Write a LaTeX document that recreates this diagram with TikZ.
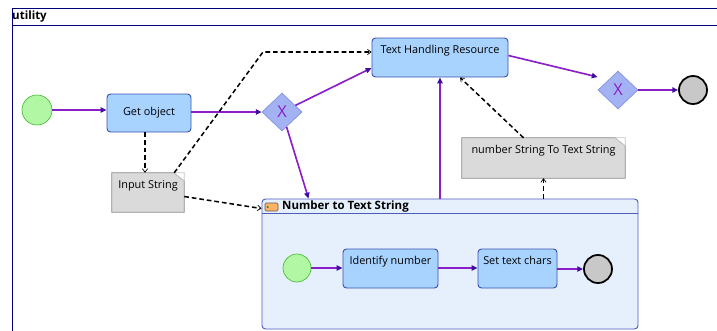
\documentclass[tikz,border=0pt]{standalone}
\usepackage{fontspec}
\setmainfont{Open Sans}
\usetikzlibrary{shapes.geometric, arrows.meta, positioning, calc}

\newcommand{\pxu}{0.03cm}
\definecolor{taskfill}{HTML}{A8D3FF}
\definecolor{taskline}{HTML}{3A4FB0}
\definecolor{startfill}{HTML}{B2F7A4}
\definecolor{startline}{HTML}{4CBF3A}
\definecolor{endfill}{HTML}{C8C8C8}
\definecolor{gwfill}{HTML}{A3B2F2}
\definecolor{gwline}{HTML}{8393E2}
\definecolor{flowline}{HTML}{8A1FC9}
\definecolor{flowhead}{HTML}{3E0FA0}
\definecolor{notefill}{HTML}{DADADA}
\definecolor{noteline}{HTML}{8A8A8A}
\definecolor{subfill}{HTML}{E6F0FD}
\definecolor{subline}{HTML}{4E5CC0}
\definecolor{frameline}{HTML}{00007F}

\tikzset{
  task/.style={draw=taskline, fill=taskfill, rounded corners=3pt, line width=0.8pt,
    align=center, inner sep=0pt, font=\fontsize{9.3}{11}\selectfont},
  gateway/.style={diamond, draw=gwline, fill=gwfill, inner sep=0pt, line width=0.6pt,
    minimum width=40*\pxu, minimum height=38*\pxu, text=flowline,
    font=\fontsize{14}{14}\selectfont},
  startev/.style={circle, draw=startline, fill=startfill, line width=0.6pt, inner sep=0pt},
  endev/.style={circle, draw=black, fill=endfill, line width=1.5pt, inner sep=0pt},
  note/.style={inner sep=0pt, align=center, font=\fontsize{9.3}{11}\selectfont},
  notebody/.style={draw=noteline, fill=notefill, line width=0.6pt},
  notefold/.style={draw=noteline!50, fill=white, line width=0.5pt},
  flow/.style={draw=flowline, line width=1.4pt, -{Triangle[length=5pt,width=4.5pt,fill=flowhead,color=flowhead]}},
  assoc/.style={draw=black, line width=1.3pt, dash pattern=on 4pt off 2.5pt,
    -{Straight Barb[length=3pt,width=4.5pt,line width=0.6pt]}},
}

\begin{document}
\begin{tikzpicture}[x=\pxu, y=-\pxu]
\useasboundingbox (0,0) rectangle (717,331);

% pool frame
\draw[frameline, line width=0.6pt] (12,331) -- (12,8) -- (717,8);
\draw[frameline, line width=0.6pt] (12,25) -- (717,25);
\node[anchor=west, inner sep=0pt, font=\fontsize{9.8}{10}\selectfont\bfseries] (pool) at (12,17) {utility};

% sub process
\node[draw=subline, fill=subfill, rounded corners=3pt, line width=0.8pt,
  minimum width=376*\pxu, minimum height=130*\pxu] (sub) at (450,264) {};
\draw[subline, line width=0.6pt] ($(sub.north west)+(0,15)$) -- ($(sub.north east)+(0,15)$);
\node[anchor=west, inner sep=0pt, font=\fontsize{9.8}{10}\selectfont\bfseries] (subtitle) at (282,207) {Number to Text String};
\node[draw=gray!70!black, fill=orange!60, rounded corners=1pt, minimum width=13*\pxu,
  minimum height=8*\pxu, inner sep=0pt, line width=0.5pt] (subicon) at (271.5,207) {};
\fill[green!60!black] ($(subicon.west)+(3,0)$) circle (1pt);

% top level nodes
\node[startev, minimum size=30*\pxu] (start) at (37,110) {};
\node[task, minimum width=84*\pxu, minimum height=38*\pxu] (getobj) at (149,113) {Get object};
\node[gateway] (gw1) at (282,112) {X};
\node[task, minimum width=136*\pxu, minimum height=39*\pxu] (texthandling) at (440,57.5) {Text Handling Resource\\ \strut};
\node[gateway] (gw2) at (618,90) {X};
\node[endev, minimum size=28*\pxu] (stop) at (693,90) {};

% data objects
\node[note, minimum width=72*\pxu, minimum height=39*\pxu] (inputstr) at (148,192.5) {};
\node[note, minimum width=163*\pxu, minimum height=40*\pxu] (numnote) at (543.5,158) {};
\foreach \n in {inputstr,numnote} {
  \path[notebody] (\n.south west) -- (\n.south east) -- ($(\n.north east)+(0,8)$)
    -- ($(\n.north east)+(-10,0)$) -- (\n.north west) -- cycle;
  \path[notefold] ($(\n.north east)+(-10,0)$) -- (\n.north east) -- ($(\n.north east)+(0,8)$) -- cycle;
}
\node[note] at (inputstr) {Input String\\ \strut};
\node[note] at (numnote) {number String To Text String\\ \strut};

% inner nodes
\node[startev, minimum size=28*\pxu] (subst) at (297,268) {};
\node[task, minimum width=95*\pxu, minimum height=39*\pxu] (identify) at (390.5,268.5) {Identify number\\ \strut};
\node[task, minimum width=79*\pxu, minimum height=39*\pxu] (settext) at (517.5,268.5) {Set text chars\\ \strut};
\node[endev, minimum size=28*\pxu] (subend) at (598,269) {};

% sequence flows
\draw[flow] (start) -- (getobj.west |- start);
\draw[flow] (getobj.east |- gw1) -- (gw1.west);
\draw[flow] (gw1) -- ($(texthandling.west)+(0,10.5)$);
\draw[flow] (gw1) -- ($(sub.north west)+(47,0)$);
\draw[flow] ($(texthandling.east)+(0,-2)$) -- ($(gw2.west)+(0,-13)$);
\draw[flow] (gw2.east) -- (stop.west);
\draw[flow] (texthandling.south |- sub.north) -- (texthandling.south);
\draw[flow] (subst) -- (identify.west |- subst);
\draw[flow] (identify.east |- subst) -- (settext.west |- subst);
\draw[flow] (settext.east |- subend) -- (subend.west);

% associations
\coordinate (bend) at (263,52);
\draw[assoc] ($(getobj.south)+(-4,0)$) -- ($(inputstr.north)+(-3,0)$);
\draw[assoc] ($(inputstr.north east)+(-10,0)$) -- (bend) -- ($(texthandling.west)+(0,-5.5)$);
\draw[assoc] ($(inputstr.east)+(0,4)$) -- ($(sub.north west)+(0,10)$);
\draw[assoc] ($(numnote.north)+(-20,0)$) -- ($(texthandling.south)+(20,0)$);
\draw[assoc] (numnote.south |- sub.north) -- (numnote.south);
\end{tikzpicture}
\end{document}
